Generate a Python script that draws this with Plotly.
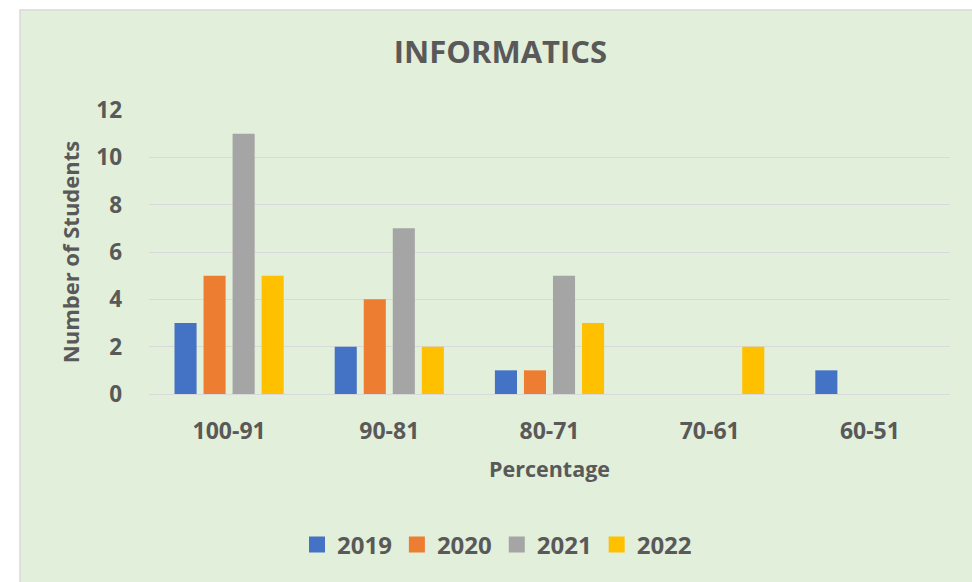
import plotly.graph_objects as go

categories = ["100-91", "90-81", "80-71", "70-61", "60-51"]
series_names = ["2019", "2020", "2021", "2022"]
v2019 = [3, 2, 1, 0, 1]
v2020 = [5, 4, 1, 0, 0]
v2021 = [11, 7, 5, 0, 0]
v2022 = [5, 2, 3, 2, 0]
colors = ["#4472C4", "#ED7D31", "#A5A5A5", "#FFC000"]

values = [v2019, v2020, v2021, v2022]
FONT = "Open Sans"
TXT = "#595959"

fig = go.Figure()
for name, vals, col in zip(series_names, values, colors):
    fig.add_trace(go.Bar(
        x=categories, y=vals, name=name, showlegend=False,
        marker=dict(color=col, line=dict(width=0)),
    ))
# legend entries (square swatches)
for name, col in zip(series_names, colors):
    fig.add_trace(go.Scatter(
        x=[None], y=[None], mode="markers", name=f"<b>{name}</b>",
        marker=dict(symbol="square", size=16, color=col),
    ))

L, R, T, B = 149, 22, 110, 188
W, H = 972, 582
pw, ph = W - L - R, H - T - B

def px_x(p):
    return (p - L) / pw

def px_y(p):
    return (H - B - p) / ph

fig.update_layout(
    width=W, height=H,
    margin=dict(l=L, r=R, t=T, b=B),
    paper_bgcolor="white",
    plot_bgcolor="rgba(0,0,0,0)",
    barmode="group",
    bargap=0.275,
    bargroupgap=0.24,
    font=dict(family=FONT, color=TXT),
    title=dict(text="<b>INFORMATICS</b>", xref="container", x=500.5 / W, xanchor="center",
               yref="container", y=1 - 52 / H, yanchor="middle",
               font=dict(size=31, color=TXT, family=FONT)),
    xaxis=dict(
        showgrid=False, showline=False, zeroline=False,
        tickfont=dict(size=23, color=TXT, family=FONT),
        tickvals=categories, ticktext=[f"<b>{c}</b>" for c in categories],
        ticklabelstandoff=21,
        title=dict(text="<b>Percentage</b>", font=dict(size=21.5, color=TXT, family=FONT), standoff=16),
    ),
    yaxis=dict(
        range=[0, 12], dtick=2,
        showgrid=True, gridcolor="#D9D9D9", gridwidth=1,
        zeroline=True, zerolinecolor="#D9D9D9", zerolinewidth=1,
        showline=False,
        tickfont=dict(size=22.5, color=TXT, family=FONT),
        tickformat="d", tickprefix="<b>", ticksuffix="</b>",
        ticklabelstandoff=26,
        title=dict(text="<b>Number of Students</b>", font=dict(size=22, color=TXT, family=FONT), standoff=10),
    ),
    legend=dict(
        orientation="h", x=px_x(497), xanchor="center", y=px_y(545), yanchor="middle",
        font=dict(size=24, color=TXT, family=FONT),
        bgcolor="rgba(0,0,0,0)", traceorder="normal",
        itemwidth=30,
    ),
    shapes=[dict(
        type="rect", xref="paper", yref="paper", layer="below",
        x0=px_x(20), x1=px_x(W + 5), y0=px_y(H + 5), y1=px_y(10),
        fillcolor="#E2EFDA", line=dict(color="#D9D9D9", width=1.5),
    )],
)

fig.write_html("out.html", config={"displayModeBar": False},
               post_script="document.body.style.margin='0';document.body.style.overflow='hidden';")
